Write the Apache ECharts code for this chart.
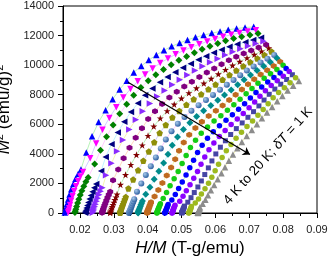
<!DOCTYPE html>
<html><head><meta charset="utf-8">
<script src="https://cdn.jsdelivr.net/npm/echarts@6/dist/echarts.min.js"></script>
<style>html,body{margin:0;padding:0;background:#fff}#c{width:331px;height:258px}</style>
</head><body><div id="c"></div>
<script>
// Temperatures (K)
const temps = [4,5,6,7,8,9,10,11,12,13,14,15,16,17,18,19,20];
// Applied fields (T): dense low-field sweep, then coarse steps
const H_LOW  = [0.1,0.2,0.3,0.4,0.5,0.6,0.7,0.8,0.9,1.0,1.1];
const H_HIGH = [1.4,1.7,2.0,2.3,2.6,2.9,3.2,3.5,3.8,4.1,4.4,4.7,5.0,5.3,5.6,5.9,6.2,6.5,6.8,7.1,7.4,7.7,8.0];
// Magnetisation M (emu/g) per temperature, same order as H_LOW then H_HIGH
const M4  = [6.44,12.77,18.92,24.80,30.32,35.44,40.14,44.35,48.10,51.39,54.19, 64.0,72.1,78.4,83.4,87.7,91.4,94.6,97.5,99.7,101.7,103.4,104.9,106.2,107.2,108.2,109.0,109.7,110.3,110.8,111.3,111.7,112.0,112.2];
const M5  = [6.05,12.01,17.83,23.42,28.72,33.69,38.29,42.49,46.29,49.67,52.63, 60.8,68.6,75.0,80.2,84.6,88.4,91.6,94.4,96.8,98.9,100.7,102.2,103.6,104.8,105.9,106.8,107.7,108.5,109.2,109.8,110.3,110.8,111.2];
const M6  = [5.40,10.74,15.96,21.03,25.89,30.50,34.83,38.87,42.58,45.97,49.02, 57.5,65.2,71.8,77.2,81.9,85.8,89.2,92.1,94.6,96.7,98.5,100.1,101.6,102.9,104.1,105.2,106.2,107.1,107.9,108.6,109.2,109.7,110.2];
const M7  = [4.65,9.26,13.80,18.24,22.54,26.69,30.65,34.41,37.96,41.28,44.35, 53.3,61.6,68.2,73.8,78.6,82.7,86.2,89.2,91.8,94.0,95.9,97.6,99.1,100.5,101.8,103.0,104.1,105.1,106.0,106.8,107.5,108.2,108.9];
const M8  = [4.20,8.37,12.49,16.55,20.50,24.35,28.06,31.62,35.03,38.26,41.31, 50.5,58.0,64.6,70.3,75.2,79.4,83.0,86.1,88.75,91.05,93.1,94.95,96.65,98.2,99.62,100.94,102.18,103.35,104.41,105.37,106.25,107.06,107.8];
const M9  = [3.77,7.52,11.24,14.91,18.52,22.04,25.47,28.79,31.99,35.07,38.01, 47.0,54.3,60.8,66.4,71.3,75.7,79.7,83.0,85.85,88.35,90.55,92.5,94.25,95.9,97.45,98.9,100.3,101.6,102.78,103.86,104.86,105.81,106.7];
const M10 = [3.46,6.90,10.33,13.71,17.05,20.33,23.54,26.68,29.72,32.68,35.53, 43.8,50.8,57.1,62.7,67.7,72.3,76.55,80.05,83.05,85.7,88.05,90.1,91.9,93.65,95.32,96.92,98.44,99.9,101.2,102.4,103.52,104.58,105.6];
const M11 = [3.14,6.28,9.40,12.49,15.55,18.57,21.54,24.45,27.31,30.09,32.81, 40.8,47.6,53.8,59.4,64.45,69.15,73.5,77.2,80.35,83.1,85.55,87.7,89.6,91.48,93.26,94.96,96.61,98.2,99.65,100.98,102.21,103.38,104.5];
const M12 = [2.90,5.79,8.67,11.53,14.36,17.16,19.93,22.65,25.33,27.95,30.52, 38.0,44.6,50.7,56.2,61.3,66.1,70.55,74.4,77.7,80.6,83.15,85.4,87.4,89.38,91.28,93.1,94.85,96.55,98.13,99.57,100.91,102.18,103.4];
const M13 = [2.69,5.38,8.06,10.73,13.38,16.00,18.59,21.15,23.68,26.16,28.60, 35.5,41.8,47.7,53.1,58.15,63.05,67.7,71.7,75.15,78.15,80.8,83.15,85.25,87.33,89.33,91.25,93.13,94.95,96.65,98.2,99.63,100.99,102.3];
const M14 = [2.51,5.02,7.52,10.01,12.49,14.94,17.38,19.79,22.17,24.52,26.84, 33.3,39.4,45.1,50.4,55.4,60.25,64.95,69.1,72.7,75.8,78.55,81.0,83.15,85.3,87.4,89.43,91.41,93.35,95.15,96.78,98.28,99.71,101.1];
const M15 = [2.34,4.68,7.01,9.34,11.65,13.95,16.23,18.50,20.74,22.95,25.14, 31.4,37.3,42.9,48.1,53.05,57.8,62.3,66.5,70.2,73.45,76.3,78.85,81.15,83.4,85.57,87.69,89.76,91.8,93.7,95.43,97.01,98.52,100.0];
const M16 = [2.22,4.43,6.64,8.84,11.04,13.22,15.39,17.54,19.68,21.79,23.89, 29.7,35.3,40.7,45.8,50.65,55.3,59.75,63.95,67.75,71.1,74.1,76.8,79.2,81.52,83.78,85.98,88.15,90.3,92.3,94.1,95.75,97.33,98.9];
const M17 = [2.12,4.23,6.35,8.45,10.55,12.64,14.72,16.79,18.84,20.87,22.88, 28.3,33.7,38.9,43.8,48.5,53.0,57.4,61.55,65.4,68.85,71.95,74.75,77.35,79.75,82.08,84.35,86.6,88.85,90.95,92.83,94.55,96.18,97.8];
const M18 = [2.00,3.99,5.98,7.97,9.95,11.92,13.89,15.84,17.78,19.71,21.62, 27.0,32.2,37.2,41.95,46.55,51.0,55.25,59.35,63.2,66.7,69.9,72.85,75.55,78.05,80.45,82.79,85.1,87.4,89.6,91.55,93.33,95.02,96.7];
const M19 = [1.92,3.83,5.74,7.65,9.55,11.45,13.34,15.21,17.08,18.94,20.79, 25.9,30.9,35.8,40.4,44.85,49.2,53.4,57.45,61.3,64.85,68.1,71.1,73.85,76.45,78.9,81.3,83.66,86.0,88.25,90.25,92.08,93.84,95.6];
const M20 = [1.82,3.65,5.47,7.29,9.10,10.91,12.71,14.51,16.29,18.07,19.84, 24.9,29.8,34.6,39.2,43.6,47.8,51.8,55.7,59.4,62.9,66.2,69.3,72.2,74.9,77.5,80.0,82.4,84.7,86.9,89.0,91.0,92.8,94.5];
const M_ALL = [M4,M5,M6,M7,M8,M9,M10,M11,M12,M13,M14,M15,M16,M17,M18,M19,M20];

// Axis ticks
const xTicks = [0.02,0.03,0.04,0.05,0.06,0.07,0.08,0.09];
const xMinorTicks = [0.015,0.025,0.035,0.045,0.055,0.065,0.075,0.085];
const annotation = '4 K to 20 K; {i|δT} = 1 K';

const HEX = 'path://M50,0 L93.3,25 L93.3,75 L50,100 L6.7,75 L6.7,25 Z';
const STAR = 'path://M50,0 L61.8,35.4 L99,35.4 L69,57.3 L80.9,92.7 L50,70.8 L19.1,92.7 L31,57.3 L1,35.4 L38.2,35.4 Z';
const PENT = 'path://M50,0 L97.6,34.5 L79.4,90.5 L20.6,90.5 L2.4,34.5 Z';
const sphere = {type:'radial',x:0.35,y:0.35,r:0.75,colorStops:[{offset:0,color:'#a9c9ec'},{offset:1,color:'#1f5498'}]};
const styles = [
  {s:'triangle',c:'#0000FF',r:0,z:6.5},
  {s:'triangle',c:'#FF00FF',r:180,z:6.5},
  {s:'diamond',c:'#008000',r:0,z:7},
  {s:'triangle',c:'#000080',r:90,z:6.5},
  {s:'triangle',c:'#8A2BFF',r:-90,z:6.5},
  {s:HEX,c:'#800080',r:0,z:6},
  {s:STAR,c:'#800000',r:0,z:7},
  {s:PENT,c:'#8F8F0A',r:0,z:6.5},
  {s:'circle',c:sphere,r:0,z:6},
  {s:'diamond',c:'#008B8B',r:0,z:7},
  {s:HEX,c:'#BF6A1F',r:0,z:6},
  {s:'circle',c:'#14CC14',r:0,z:5.5},
  {s:'circle',c:'#0000FF',r:0,z:5.5},
  {s:'circle',c:'#8A00FF',r:0,z:5.5},
  {s:'rect',c:'#4545A5',r:0,z:5},
  {s:'circle',c:'#9DB91E',r:0,z:5.5},
  {s:'triangle',c:'#8C8C8C',r:0,z:6.5}
];
const lineColors = ['#a6f0a6','#c4c4ff','#ffbfff','#aef0ff','#f2f29a','#ffd0b0'];

const H_ALL = H_LOW.concat(H_HIGH);
const FONT = '"Liberation Sans", Arial, sans-serif';

const series = M_ALL.map((M, k) => ({
  name: temps[k] + ' K',
  type: 'line',
  xAxisIndex: 0,
  data: M.map((m, i) => [H_ALL[i] / m, m * m]),
  symbol: styles[k].s,
  symbolSize: styles[k].z,
  symbolRotate: styles[k].r,
  showSymbol: true,
  itemStyle: {color: styles[k].c},
  lineStyle: {color: lineColors[k % lineColors.length], width: 0.8},
  silent: true,
  z: 2 + k
}));
series[0].markLine = {
  silent: true,
  symbol: ['none', 'arrow'],
  symbolSize: 7,
  label: {show: false},
  lineStyle: {color: '#000', width: 1.2, type: 'solid'},
  data: [[{coord: [0.0342, 8850]}, {coord: [0.0702, 3950]}]],
  z: 30
};

const chart = echarts.init(document.getElementById('c'), null, {renderer: 'canvas'});
chart.setOption({
  animation: false,
  backgroundColor: '#fff',
  grid: {left: 63, right: 14, top: 6, bottom: 45, show: true, borderColor: '#000', borderWidth: 1, containLabel: false, outerBoundsMode: 'none'},
  xAxis: [{
    type: 'value', min: 0.015, max: 0.09, interval: 0.005,
    name: '{i|H/M}{n| (T-g/emu)}', nameLocation: 'middle', nameGap: 23,
    nameTextStyle: {rich: {i: {fontStyle: 'italic', fontSize: 17, fontFamily: FONT, color: '#000'}, n: {fontSize: 17, fontFamily: FONT, color: '#000'}}},
    axisLine: {lineStyle: {color: '#000', width: 1}},
    axisTick: {show: true, inside: false, length: 5, customValues: xTicks, lineStyle: {color: '#000'}},
    axisLabel: {customValues: xTicks, margin: 11, fontSize: 11, fontFamily: FONT, color: '#222', formatter: v => v.toFixed(2)},
    splitLine: {show: false}
  }, {
    type: 'value', min: 0.015, max: 0.09, interval: 0.005, position: 'bottom',
    axisLine: {show: false},
    axisTick: {show: true, inside: false, length: 3, customValues: xMinorTicks, lineStyle: {color: '#000'}},
    axisLabel: {show: false},
    splitLine: {show: false}
  }],
  yAxis: {
    type: 'value', min: 0, max: 14000, interval: 2000,
    name: '{i|M}{s|2}{n| (emu/g)}{s|2}', nameLocation: 'middle', nameGap: 32, nameRotate: 90,
    nameTextStyle: {rich: {
      i: {fontStyle: 'italic', fontSize: 17, lineHeight: 20, fontFamily: FONT, color: '#000'},
      n: {fontSize: 17, lineHeight: 20, fontFamily: FONT, color: '#000'},
      s: {fontSize: 11, lineHeight: 20, verticalAlign: 'top', fontFamily: FONT, color: '#000'}
    }},
    axisLine: {show: true, lineStyle: {color: '#000', width: 1}},
    axisTick: {show: true, inside: false, length: 5, lineStyle: {color: '#000'}},
    minorTick: {show: true, splitNumber: 2, length: 3, lineStyle: {color: '#000'}},
    axisLabel: {margin: 9, fontSize: 11, fontFamily: FONT, color: '#222', formatter: v => String(v)},
    splitLine: {show: false}
  },
  graphic: [{
    type: 'text', x: 268, y: 156, rotation: 48 * Math.PI / 180, z: 50,
    style: {text: annotation, fontSize: 13.5, fontFamily: FONT, fill: '#000', align: 'center', verticalAlign: 'middle',
      rich: {i: {fontStyle: 'italic', fontSize: 13.5, fontFamily: FONT, fill: '#000'}}}
  }],
  series: series
});
</script></body></html>
